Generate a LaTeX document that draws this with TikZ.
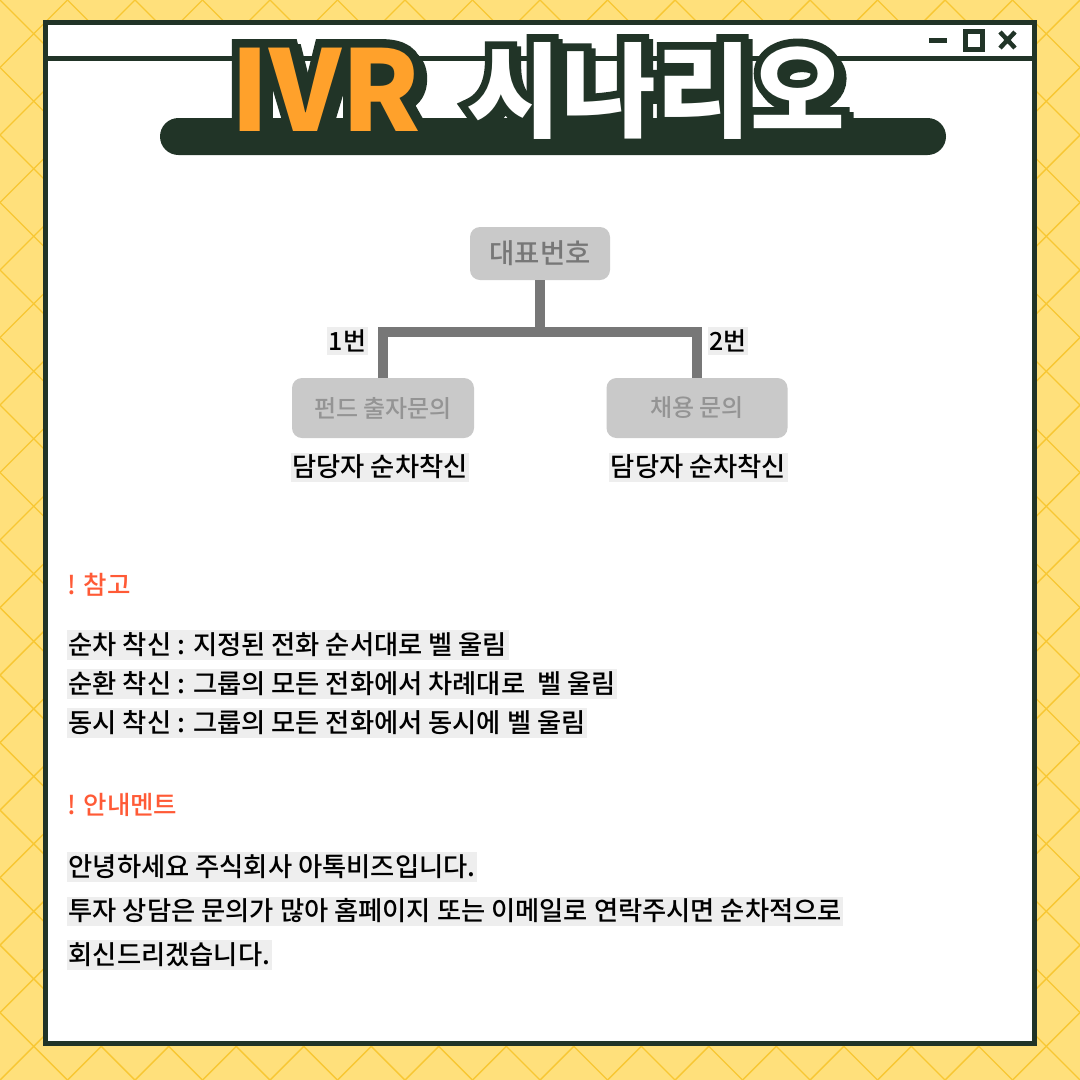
\documentclass[tikz,border=0pt]{standalone}
\usepackage{fontspec}
\newfontfamily\krm{Noto Sans CJK KR Medium}
\newfontfamily\krblack{Noto Sans CJK KR Black}
\newfontfamily\krblackO{Noto Sans CJK KR Black}[FakeBold=15]
\definecolor{dk}{HTML}{213427}
\definecolor{bgY}{HTML}{FFE07B}
\definecolor{patY}{HTML}{F8C733}
\definecolor{orT}{HTML}{FFA12B}
\definecolor{boxG}{HTML}{C9C9C9}
\definecolor{connG}{HTML}{777777}
\definecolor{hiG}{HTML}{EEEEEE}
\definecolor{redT}{HTML}{FF5A36}
\newcommand\fsz[1]{\fontsize{#1}{#1}\selectfont}
\tikzset{
  patline/.style={draw=patY,line width=1.4pt},
  gbox/.style={fill=boxG,rounded corners=10pt,inner sep=0pt},
  conn/.style={draw=connG,line width=10pt},
  hi/.style={fill=hiG,inner xsep=1.5pt,inner ysep=0pt,text height=#1*0.92,text depth=#1*0.2,text=black},
  line/.style={hi=26.3pt,anchor=west,font=\krm\fsz{26.3}},
  head/.style={anchor=west,inner sep=0pt,font=\krm\fsz{25.5},text=redT},
  ivr/.style={anchor=base,inner sep=0pt,font=\krblack\fsz{112}},
  hang/.style={anchor=base,inner sep=0pt,font=\krblack\fsz{103}},
  ivrO/.style={anchor=base,inner sep=0pt,font=\krblackO\fsz{112},text=dk},
  hangO/.style={anchor=base,inner sep=0pt,font=\krblackO\fsz{103},text=dk},
}
\begin{document}
\begin{tikzpicture}[x=1pt,y=-1pt]
\useasboundingbox (0,0) rectangle (1080,1080);
\fill[bgY] (0,0) rectangle (1080,1080);
\begin{scope}
\clip (0,0) rectangle (1080,1080);
\foreach \n in {1,...,32} \draw[patline] (\n*67.5,0) -- (0,\n*67.5);
\foreach \n in {-16,...,16} \draw[patline] (\n*67.5,0) -- (\n*67.5+1080,1080);
\end{scope}
% window
\draw[dk,line width=5pt,fill=white] (45.5,22.5) rectangle (1034.5,1043.5);
\draw[dk,line width=5pt] (45.5,58.5) -- (1034.5,58.5);
\draw[dk,line width=5pt] (929,40.5) -- (947,40.5);
\draw[dk,line width=5pt] (965.5,31.5) rectangle (982.5,49.5);
\draw[dk,line width=4.5pt] (1000,32) -- (1015,48) (1000,48) -- (1015,32);
% title pill
\fill[dk,rounded corners=18.5pt] (160,118) rectangle (946,155);
% title outline + shadow
\node[ivrO] (ivs) at (330,136) {IVR};
\node[hangO] (hgs) at (660,134) {시나리오};
\node[ivrO] (ivo) at (326,131) {IVR};
\node[hangO] (hgo) at (656,129) {시나리오};
\node[ivr,text=orT] (ivr) at (326,131) {IVR};
\node[hang,text=white] (hang) at (656,129) {시나리오};
% tree
\node[gbox,minimum width=140pt,minimum height=53pt,text=connG,font=\krm\fsz{27.5}] (top) at (540,253.5) {대표번호};
\node[gbox,minimum width=182pt,minimum height=60pt,text=black!42,font=\krm\fsz{24}] (lft) at (383,408) {펀드 출자문의};
\node[gbox,minimum width=181pt,minimum height=60pt,text=black!42,font=\krm\fsz{24}] (rgt) at (697,408) {채용 문의};
\coordinate (j) at (540,332);
\draw[conn] (top.south) -- (j);
\draw[conn] (lft.north) |- (j) -| (rgt.north);
\node[hi=25pt,font=\krm\fsz{25}] (n1) at (347.5,341) {1번};
\node[hi=25pt,font=\krm\fsz{25}] (n2) at (728,341) {2번};
\node[hi=26.3pt,font=\krm\fsz{26.3}] (d1) at (380,467.5) {담당자 순차착신};
\node[hi=26.3pt,font=\krm\fsz{26.3}] (d2) at (698.5,467.5) {담당자 순차착신};
% notes
\node[head] (h1) at (67,585) {! 참고};
\node[line] (l1) at (67,645) {순차 착신 : 지정된 전화 순서대로 벨 울림};
\node[line] (l2) at (67,684) {순환 착신 : 그룹의 모든 전화에서 차례대로\ \ 벨 울림};
\node[line] (l3) at (67,723) {동시 착신 : 그룹의 모든 전화에서 동시에 벨 울림};
\node[head] (h2) at (67,805) {! 안내멘트};
\node[line] (a1) at (67,867) {안녕하세요 주식회사 아톡비즈입니다.};
\node[line] (a2) at (67,911.5) {투자 상담은 문의가 많아 홈페이지 또는 이메일로 연락주시면 순차적으로};
\node[line] (a3) at (67,955) {회신드리겠습니다.};
\end{tikzpicture}
\end{document}
